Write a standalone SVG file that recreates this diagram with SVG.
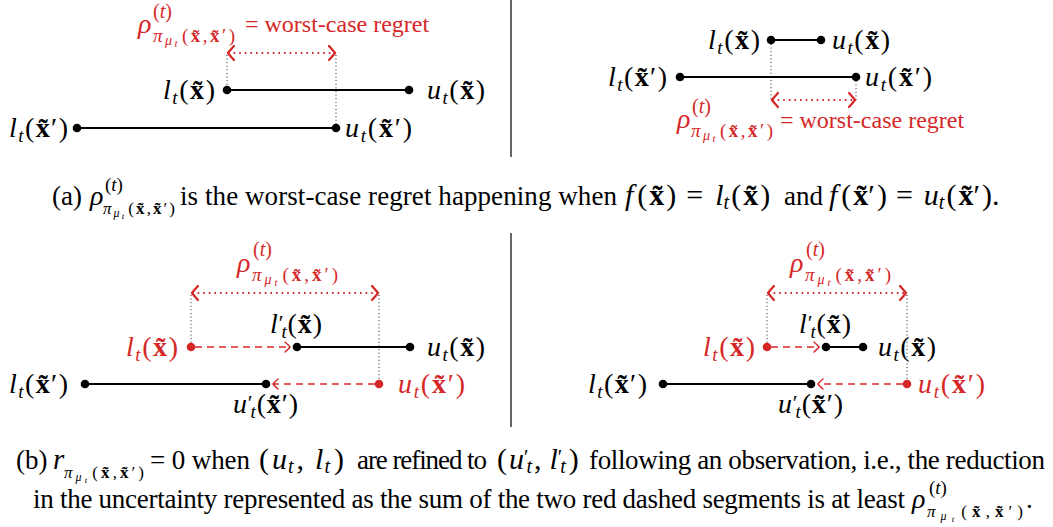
<svg xmlns="http://www.w3.org/2000/svg" width="1053" height="527" viewBox="0 0 1053 527">
<style>
text{font-family:"Liberation Serif","Times New Roman",serif;fill:#000}
.m{font-size:28px}
.i{font-style:italic}
.b{font-weight:bold}
.s{font-size:19px}
.r{fill:#d62728}
.cap{font-size:27px}
.cm{font-size:30px}
.rho{font-size:28px;font-style:italic}
.seg{stroke:#000;stroke-width:2.2;fill:none}
.vd{stroke:#222;stroke-width:1;stroke-dasharray:1 2.6;fill:none}
.rd{stroke:#d62728;stroke-width:2;stroke-dasharray:1.6 4;fill:none;marker-start:url(#chevL);marker-end:url(#chevL)}
.rdash{stroke:#d62728;stroke-width:1.3;stroke-dasharray:7 5;fill:none;marker-end:url(#chevS)}
.dk{fill:#000}
.dr{fill:#d62728}
.div{stroke:#000;stroke-width:1.2}
</style>
<defs>
<marker id="chevL" viewBox="-9 -9 11 18" markerWidth="11" markerHeight="18" refX="0" refY="0" orient="auto-start-reverse" markerUnits="userSpaceOnUse">
<path d="M -6 -7 Q -1.5 -2 0 0 Q -1.5 2 -6 7" fill="none" stroke="#d62728" stroke-width="2.2" stroke-linecap="round"/>
</marker>
<marker id="chevS" viewBox="-8 -7 10 14" markerWidth="10" markerHeight="14" refX="0" refY="0" orient="auto" markerUnits="userSpaceOnUse">
<path d="M -5 -5 Q -1 -1.5 0 0 Q -1 1.5 -5 5" fill="none" stroke="#d62728" stroke-width="1.4" stroke-linecap="round"/>
</marker>
</defs>

<g id="dividers">
<line class="div" x1="511" y1="0" x2="511" y2="157"/>
<line class="div" x1="511" y1="233" x2="511" y2="427"/>
</g>

<g id="connectors">
<line class="seg" x1="227" y1="90" x2="409" y2="90"/>
<line class="seg" x1="77" y1="128" x2="336" y2="128"/>
<line class="vd" x1="227" y1="55" x2="227" y2="86"/>
<line class="vd" x1="336" y1="55" x2="336" y2="124"/>
<line class="rd" x1="228" y1="53" x2="335" y2="53"/>
<line class="seg" x1="771" y1="40" x2="821" y2="40"/>
<line class="seg" x1="680" y1="77" x2="856" y2="77"/>
<line class="vd" x1="771" y1="44" x2="771" y2="100"/>
<line class="vd" x1="856" y1="81" x2="856" y2="100"/>
<line class="rd" x1="772" y1="100" x2="855" y2="100"/>
<line class="seg" x1="297" y1="347" x2="410" y2="347"/>
<line class="seg" x1="85" y1="384" x2="266" y2="384"/>
<line class="vd" x1="191" y1="295" x2="191" y2="343"/>
<line class="vd" x1="379" y1="295" x2="379" y2="380"/>
<line class="rd" x1="192" y1="293" x2="378" y2="293"/>
<line class="rdash" x1="195" y1="347" x2="290" y2="347"/>
<line class="rdash" x1="375" y1="384" x2="273" y2="384"/>
<line class="seg" x1="826" y1="347" x2="863" y2="347"/>
<line class="seg" x1="663" y1="384" x2="811" y2="384"/>
<line class="vd" x1="767" y1="295" x2="767" y2="343"/>
<line class="vd" x1="907" y1="295" x2="907" y2="380"/>
<line class="rd" x1="768" y1="293" x2="906" y2="293"/>
<line class="rdash" x1="771" y1="347" x2="819" y2="347"/>
<line class="rdash" x1="903" y1="384" x2="818" y2="384"/>
</g>

<!-- Panel (a) left -->
<g id="a1-rho">
<text x="138" y="33" class="rho r">ρ</text>
<text x="153" y="18" class="r" font-size="20">(<tspan class="i">t</tspan>)</text>
<text x="153" y="42" class="r" font-size="19" textLength="82" lengthAdjust="spacing"><tspan class="i">π</tspan><tspan class="i" font-size="14" dy="3">μ</tspan><tspan class="i" font-size="11" dy="2">t</tspan><tspan dy="-5" dx="2">(</tspan><tspan class="b">x&#771;</tspan>,<tspan class="b">x&#771;</tspan>′)</text>
<text x="245" y="32" class="r" font-size="24">= worst-case regret</text>
</g>
<g id="a1-lx">
<circle class="dk" cx="227" cy="90" r="4.3"/>
<text class="m" x="215" y="99" text-anchor="end" textLength="52" lengthAdjust="spacing"><tspan class="i">l</tspan><tspan class="i s" dy="5">t</tspan><tspan dy="-5">(</tspan><tspan class="b">x&#771;</tspan>)</text>
</g>
<g id="a1-ux">
<circle class="dk" cx="409" cy="90" r="4.3"/>
<text class="m" x="427" y="99" textLength="58" lengthAdjust="spacing"><tspan class="i">u</tspan><tspan class="i s" dy="5">t</tspan><tspan dy="-5">(</tspan><tspan class="b">x&#771;</tspan>)</text>
</g>
<g id="a1-lxp">
<circle class="dk" cx="77" cy="128" r="4.3"/>
<text class="m" x="68" y="137" text-anchor="end" textLength="59" lengthAdjust="spacing"><tspan class="i">l</tspan><tspan class="i s" dy="5">t</tspan><tspan dy="-5">(</tspan><tspan class="b">x&#771;</tspan>′)</text>
</g>
<g id="a1-uxp">
<circle class="dk" cx="336" cy="128" r="4.3"/>
<text class="m" x="345" y="137" textLength="67" lengthAdjust="spacing"><tspan class="i">u</tspan><tspan class="i s" dy="5">t</tspan><tspan dy="-5">(</tspan><tspan class="b">x&#771;</tspan>′)</text>
</g>

<!-- Panel (a) right -->
<g id="a2-rho">
<text x="677" y="128" class="rho r">ρ</text>
<text x="692" y="113" class="r" font-size="20">(<tspan class="i">t</tspan>)</text>
<text x="691" y="137" class="r" font-size="19" textLength="82" lengthAdjust="spacing"><tspan class="i">π</tspan><tspan class="i" font-size="14" dy="3">μ</tspan><tspan class="i" font-size="11" dy="2">t</tspan><tspan dy="-5" dx="2">(</tspan><tspan class="b">x&#771;</tspan>,<tspan class="b">x&#771;</tspan>′)</text>
<text x="780" y="128" class="r" font-size="24">= worst-case regret</text>
</g>
<g id="a2-lx">
<circle class="dk" cx="771" cy="40" r="4.3"/>
<text class="m" x="760" y="49" text-anchor="end" textLength="52" lengthAdjust="spacing"><tspan class="i">l</tspan><tspan class="i s" dy="5">t</tspan><tspan dy="-5">(</tspan><tspan class="b">x&#771;</tspan>)</text>
</g>
<g id="a2-ux">
<circle class="dk" cx="821" cy="40" r="4.3"/>
<text class="m" x="832" y="49" textLength="58" lengthAdjust="spacing"><tspan class="i">u</tspan><tspan class="i s" dy="5">t</tspan><tspan dy="-5">(</tspan><tspan class="b">x&#771;</tspan>)</text>
</g>
<g id="a2-lxp">
<circle class="dk" cx="680" cy="77" r="4.3"/>
<text class="m" x="667" y="86" text-anchor="end" textLength="59" lengthAdjust="spacing"><tspan class="i">l</tspan><tspan class="i s" dy="5">t</tspan><tspan dy="-5">(</tspan><tspan class="b">x&#771;</tspan>′)</text>
</g>
<g id="a2-uxp">
<circle class="dk" cx="856" cy="77" r="4.3"/>
<text class="m" x="865" y="86" textLength="67" lengthAdjust="spacing"><tspan class="i">u</tspan><tspan class="i s" dy="5">t</tspan><tspan dy="-5">(</tspan><tspan class="b">x&#771;</tspan>′)</text>
</g>

<!-- caption (a) -->
<g id="caption-a">
<text class="cap" x="52" y="205">(a)</text>
<text class="i" x="90" y="205" font-size="28">ρ</text>
<text x="105" y="191" font-size="19">(<tspan class="i">t</tspan>)</text>
<text x="103" y="214" font-size="17" textLength="72" lengthAdjust="spacing"><tspan class="i">π</tspan><tspan class="i" font-size="12" dy="3">μ</tspan><tspan class="i" font-size="9" dy="2">t</tspan><tspan dy="-5" dx="2">(</tspan><tspan class="b">x&#771;</tspan>,<tspan class="b">x&#771;</tspan>′)</text>
<text class="cap" x="180" y="205" textLength="437" lengthAdjust="spacing">is the worst-case regret happening when</text>
<text class="cm" x="625" y="205"><tspan class="i">f</tspan><tspan dx="4">(</tspan><tspan class="b" dx="2">x&#771;</tspan><tspan dx="2">)</tspan><tspan dx="10">=</tspan><tspan class="i" dx="12">l</tspan><tspan class="i" font-size="20" dy="4">t</tspan><tspan dy="-4" dx="2">(</tspan><tspan class="b" dx="2">x&#771;</tspan><tspan dx="2">)</tspan></text>
<text class="cap" x="784" y="205">and</text>
<text class="cm" x="829" y="205"><tspan class="i">f</tspan><tspan dx="4">(</tspan><tspan class="b" dx="2">x&#771;</tspan>′<tspan dx="2">)</tspan><tspan dx="9">=</tspan><tspan class="i" dx="11">u</tspan><tspan class="i" font-size="20" dy="4">t</tspan><tspan dy="-4" dx="2">(</tspan><tspan class="b" dx="2">x&#771;</tspan>′<tspan dx="2">).</tspan></text>
</g>

<!-- Panel (b) left -->
<g id="b1-rho">
<text x="237" y="272" class="rho r">ρ</text>
<text x="253" y="256" class="r" font-size="20">(<tspan class="i">t</tspan>)</text>
<text x="252" y="281" class="r" font-size="19" textLength="86" lengthAdjust="spacing"><tspan class="i">π</tspan><tspan class="i" font-size="14" dy="3">μ</tspan><tspan class="i" font-size="11" dy="2">t</tspan><tspan dy="-5" dx="2">(</tspan><tspan class="b">x&#771;</tspan>,<tspan class="b">x&#771;</tspan>′)</text>
</g>
<g id="b1-lx">
<circle class="dr" cx="191" cy="347" r="4.3"/>
<text class="m r" x="178" y="356" text-anchor="end" textLength="52" lengthAdjust="spacing"><tspan class="i">l</tspan><tspan class="i s" dy="5">t</tspan><tspan dy="-5">(</tspan><tspan class="b">x&#771;</tspan>)</text>
</g>
<g id="b1-lpx">
<circle class="dk" cx="297" cy="347" r="4.3"/>
<text class="m" x="270" y="333" textLength="52" lengthAdjust="spacing"><tspan class="i">l</tspan><tspan font-size="22" dy="-3">′</tspan><tspan class="i s" dx="-3" dy="8">t</tspan><tspan dy="-5">(</tspan><tspan class="b">x&#771;</tspan>)</text>
</g>
<g id="b1-ux">
<circle class="dk" cx="410" cy="347" r="4.3"/>
<text class="m" x="427" y="356" textLength="58" lengthAdjust="spacing"><tspan class="i">u</tspan><tspan class="i s" dy="5">t</tspan><tspan dy="-5">(</tspan><tspan class="b">x&#771;</tspan>)</text>
</g>
<g id="b1-lxp">
<circle class="dk" cx="85" cy="384" r="4.3"/>
<text class="m" x="68" y="393" text-anchor="end" textLength="59" lengthAdjust="spacing"><tspan class="i">l</tspan><tspan class="i s" dy="5">t</tspan><tspan dy="-5">(</tspan><tspan class="b">x&#771;</tspan>′)</text>
</g>
<g id="b1-upxp">
<circle class="dk" cx="266" cy="384" r="4.3"/>
<text class="m" x="233" y="413" textLength="65" lengthAdjust="spacing"><tspan class="i">u</tspan><tspan font-size="22" dy="-3">′</tspan><tspan class="i s" dx="-3" dy="8">t</tspan><tspan dy="-5">(</tspan><tspan class="b">x&#771;</tspan>′)</text>
</g>
<g id="b1-uxp">
<circle class="dr" cx="379" cy="384" r="4.3"/>
<text class="m r" x="398" y="393" textLength="67" lengthAdjust="spacing"><tspan class="i">u</tspan><tspan class="i s" dy="5">t</tspan><tspan dy="-5">(</tspan><tspan class="b">x&#771;</tspan>′)</text>
</g>

<!-- Panel (b) right -->
<g id="b2-rho">
<text x="790" y="272" class="rho r">ρ</text>
<text x="806" y="256" class="r" font-size="20">(<tspan class="i">t</tspan>)</text>
<text x="805" y="281" class="r" font-size="19" textLength="86" lengthAdjust="spacing"><tspan class="i">π</tspan><tspan class="i" font-size="14" dy="3">μ</tspan><tspan class="i" font-size="11" dy="2">t</tspan><tspan dy="-5" dx="2">(</tspan><tspan class="b">x&#771;</tspan>,<tspan class="b">x&#771;</tspan>′)</text>
</g>
<g id="b2-lx">
<circle class="dr" cx="767" cy="347" r="4.3"/>
<text class="m r" x="755" y="356" text-anchor="end" textLength="52" lengthAdjust="spacing"><tspan class="i">l</tspan><tspan class="i s" dy="5">t</tspan><tspan dy="-5">(</tspan><tspan class="b">x&#771;</tspan>)</text>
</g>
<g id="b2-lpx">
<circle class="dk" cx="826" cy="347" r="4.3"/>
<text class="m" x="799" y="333" textLength="52" lengthAdjust="spacing"><tspan class="i">l</tspan><tspan font-size="22" dy="-3">′</tspan><tspan class="i s" dx="-3" dy="8">t</tspan><tspan dy="-5">(</tspan><tspan class="b">x&#771;</tspan>)</text>
</g>
<g id="b2-ux">
<circle class="dk" cx="863" cy="347" r="4.3"/>
<text class="m" x="878" y="356" textLength="58" lengthAdjust="spacing"><tspan class="i">u</tspan><tspan class="i s" dy="5">t</tspan><tspan dy="-5">(</tspan><tspan class="b">x&#771;</tspan>)</text>
</g>
<g id="b2-lxp">
<circle class="dk" cx="663" cy="384" r="4.3"/>
<text class="m" x="647" y="393" text-anchor="end" textLength="59" lengthAdjust="spacing"><tspan class="i">l</tspan><tspan class="i s" dy="5">t</tspan><tspan dy="-5">(</tspan><tspan class="b">x&#771;</tspan>′)</text>
</g>
<g id="b2-upxp">
<circle class="dk" cx="811" cy="384" r="4.3"/>
<text class="m" x="778" y="413" textLength="65" lengthAdjust="spacing"><tspan class="i">u</tspan><tspan font-size="22" dy="-3">′</tspan><tspan class="i s" dx="-3" dy="8">t</tspan><tspan dy="-5">(</tspan><tspan class="b">x&#771;</tspan>′)</text>
</g>
<g id="b2-uxp">
<circle class="dr" cx="907" cy="384" r="4.3"/>
<text class="m r" x="918" y="393" textLength="67" lengthAdjust="spacing"><tspan class="i">u</tspan><tspan class="i s" dy="5">t</tspan><tspan dy="-5">(</tspan><tspan class="b">x&#771;</tspan>′)</text>
</g>

<!-- caption (b) -->
<g id="caption-b">
<text class="cap" x="16" y="469">(b)</text>
<text class="i" x="53" y="469" font-size="29">r</text>
<text x="64" y="478" font-size="17" textLength="80" lengthAdjust="spacing"><tspan class="i">π</tspan><tspan class="i" font-size="12" dy="3">μ</tspan><tspan class="i" font-size="9" dy="2">t</tspan><tspan dy="-5" dx="2">(</tspan><tspan class="b">x&#771;</tspan>,<tspan class="b">x&#771;</tspan>′)</text>
<text class="cap" x="150" y="469" textLength="100" lengthAdjust="spacing">= 0 when</text>
<text class="cm" x="259" y="469">(<tspan class="i" dx="3">u</tspan><tspan class="i" font-size="20" dy="4" dx="1">t</tspan><tspan dy="-4" dx="3">,</tspan><tspan class="i" dx="11">l</tspan><tspan class="i" font-size="20" dy="4" dx="1">t</tspan><tspan dy="-4" dx="4">)</tspan></text>
<text class="cap" x="357" y="469" textLength="130" lengthAdjust="spacing">are refined to</text>
<text class="cm" x="497" y="469">(<tspan class="i" dx="2">u</tspan><tspan font-size="20" dy="-5">′</tspan><tspan class="i" font-size="20" dx="-2" dy="9">t</tspan><tspan dy="-4" dx="2">,</tspan><tspan class="i" dx="8">l</tspan><tspan font-size="20" dy="-5">′</tspan><tspan class="i" font-size="20" dx="-2" dy="9">t</tspan><tspan dy="-4" dx="3">)</tspan></text>
<text class="cap" x="589" y="469" textLength="456" lengthAdjust="spacing">following an observation, i.e., the reduction</text>
<text class="cap" x="33" y="508" textLength="872" lengthAdjust="spacing">in the uncertainty represented as the sum of the two red dashed segments is at least</text>
<text class="i" x="912" y="508" font-size="28">ρ</text>
<text x="929" y="494" font-size="19">(<tspan class="i">t</tspan>)</text>
<text x="927" y="517" font-size="17" textLength="96" lengthAdjust="spacing"><tspan class="i">π</tspan><tspan class="i" font-size="12" dy="3">μ</tspan><tspan class="i" font-size="9" dy="2">t</tspan><tspan dy="-5" dx="2">(</tspan><tspan class="b">x&#771;</tspan>,<tspan class="b">x&#771;</tspan>′)</text>
<text class="cap" x="1026" y="508">.</text>
</g>
</svg>
